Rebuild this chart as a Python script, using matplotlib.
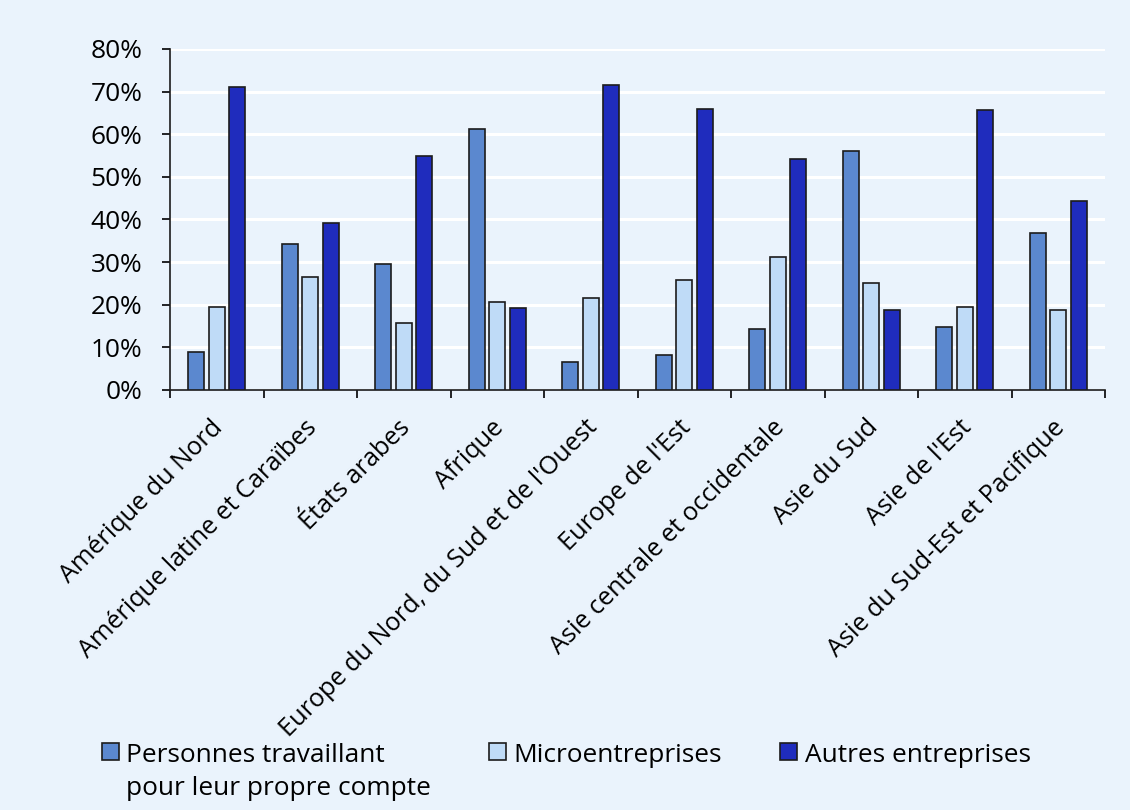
import numpy as np
import matplotlib.pyplot as plt
from matplotlib.ticker import PercentFormatter
from matplotlib.transforms import ScaledTranslation

plt.rcParams['font.family'] = ['Open Sans', 'DejaVu Sans']

# ---------------------------------------------------------
# Data (share of employment, %)
# ---------------------------------------------------------
regions = [
    "Amérique du Nord",
    "Amérique latine et Caraïbes",
    "États arabes",
    "Afrique",
    "Europe du Nord, du Sud et de l'Ouest",
    "Europe de l'Est",
    "Asie centrale et occidentale",
    "Asie du Sud",
    "Asie de l'Est",
    "Asie du Sud-Est et Pacifique",
]
own_account = [8.9, 34.3, 29.5, 61.2, 6.5, 8.2, 14.4, 56.1, 14.8, 36.8]
micro = [19.5, 26.5, 15.8, 20.6, 21.7, 25.8, 31.2, 25.0, 19.5, 18.8]
other = [71.1, 39.2, 54.9, 19.2, 71.6, 66.0, 54.3, 18.8, 65.7, 44.3]

series_labels = ["Personnes travaillant\npour leur propre compte",
                 "Microentreprises", "Autres entreprises"]
series_colors = ["#5B88CF", "#BFDBF7", "#1F2CBD"]

BG = "#EAF3FC"
FS = 18.9

# ---------------------------------------------------------
# Figure
# ---------------------------------------------------------
fig = plt.figure(figsize=(11.3, 8.1), dpi=100, facecolor=BG)
ax = fig.add_axes([170 / 1130, 1 - 390 / 810, 935 / 1130, 341 / 810])
ax.set_facecolor(BG)

x = np.arange(len(regions))
width = 0.171
step = 0.22
for i, (vals, lab, col) in enumerate(zip([own_account, micro, other],
                                         series_labels, series_colors)):
    ax.bar(x + (i - 1) * step, vals, width, color=col, edgecolor="#1c1c1c",
           linewidth=1.2, label=lab, zorder=3)

ax.set_xlim(-0.5, len(regions) - 0.5)
ax.set_ylim(0, 80)
ax.set_yticks(np.arange(0, 81, 10))
ax.yaxis.set_major_formatter(PercentFormatter(decimals=0))
ax.grid(axis="y", color="white", linewidth=2.2, zorder=0)
ax.set_axisbelow(True)

for s in ["top", "right"]:
    ax.spines[s].set_visible(False)
for s in ["left", "bottom"]:
    ax.spines[s].set_linewidth(1.2)
    ax.spines[s].set_color("#1c1c1c")

# category ticks sit between the groups, labels at the group centres
ax.set_xticks(np.arange(-0.5, len(regions), 1.0))
ax.set_xticklabels([])
ax.set_xticks(x, minor=True)
ax.set_xticklabels(regions, minor=True, rotation=45, ha="right",
                   va="top", rotation_mode="anchor", fontsize=18.2)
ax.tick_params(axis="x", which="major", direction="out", length=5.8, width=1.2)
ax.tick_params(axis="x", which="minor", length=0, pad=18)
ax.tick_params(axis="y", direction="out", length=5.8, width=1.2,
               labelsize=FS, pad=14)

# nudge the slanted labels a little to the left of the group centre
shift = ScaledTranslation(-0.06, 0, fig.dpi_scale_trans)
for lbl in ax.xaxis.get_minorticklabels():
    lbl.set_transform(lbl.get_transform() + shift)

leg = fig.legend(loc="upper left", bbox_to_anchor=(101.7 / 1130, 1 - 743 / 810),
                 ncol=3, frameon=False, fontsize=FS, handlelength=0.64,
                 handleheight=0.64, handletextpad=0.3, columnspacing=2.2,
                 borderaxespad=0, borderpad=0)
for t in leg.get_texts():
    t.set_linespacing(1.4)
# keep every handle level with the first line of its label
leg._legend_handle_box.align = "top"
for col in leg._legend_handle_box.get_children():
    for item in col.get_children():
        item.align = "top"

fig.savefig("out.png", dpi=100, facecolor=BG)
